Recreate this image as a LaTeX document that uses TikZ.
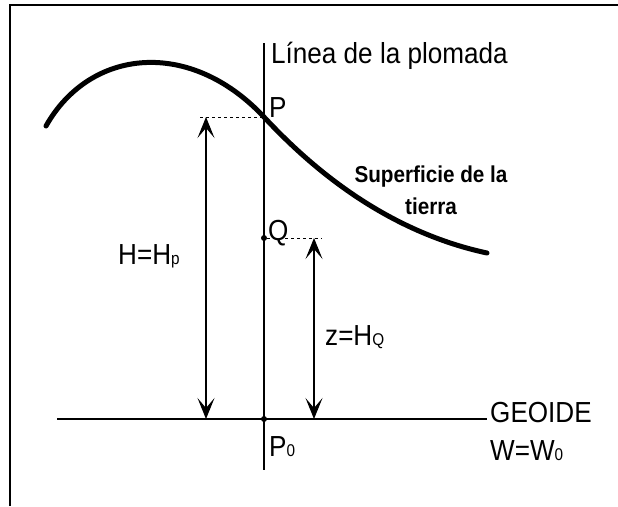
\documentclass[tikz,border=0pt]{standalone}
\usepackage{fontspec}
\setmainfont[FakeStretch=0.9]{Liberation Sans}
\usetikzlibrary{arrows.meta,positioning}
\newcommand{\idx}[1]{{\fontsize{17}{17}\selectfont #1}}

\begin{document}
\begin{tikzpicture}[
    x=1pt, y=-1pt,
    >=Stealth,
    lbl/.style={font=\fontsize{29}{32}\selectfont, inner sep=0pt, anchor=base west},
    surflbl/.style={font=\fontsize{23}{32}\selectfont\bfseries, align=center, inner sep=0pt},
    surf/.style={line width=5pt, line cap=round},
    arr/.style={{Stealth[length=21pt,width=17pt,inset=10pt]}-{Stealth[length=21pt,width=17pt,inset=10pt]}, line width=1.2pt},
    guide/.style={dash pattern=on 3pt off 3pt, line width=1pt},
    pt/.style={circle, fill, inner sep=0pt, minimum size=6pt},
  ]
  \useasboundingbox (0,0) rectangle (618,506);

  % frame
  \draw[line width=2pt] (10,506) -- (10,5) -- (618,5);

  % plumb line and geoid
  \coordinate (plumbtop) at (264,43);
  \coordinate (plumbbot) at (264,470);
  \coordinate (geoL) at (57,419);
  \coordinate (geoR) at (487,419);
  \draw[line width=1.2pt] (plumbtop) -- (plumbbot);
  \draw[line width=2pt] (geoL) -- (geoR);

  % points
  \coordinate (P) at (264,117);
  \node[pt] (Q) at (264,238) {};
  \node[pt] (P0) at (264,419) {};

  % earth surface
  \draw[surf] (46,126) .. controls (90,48) and (190,38) .. (P)
    .. controls (305,161) and (380,230) .. (487,253);

  % heights
  \coordinate (Htop) at (206,117);
  \coordinate (Hbot) at (206,419);
  \coordinate (Ptick) at (200,117);
  \coordinate (Ztop) at (314,238);
  \coordinate (Zbot) at (314,419);
  \coordinate (Qtick) at (322,238);
  \draw[guide] (Ptick) -- (P);
  \draw[guide] (Q) -- (Qtick);
  \draw[arr] (Htop) -- (Hbot);
  \draw[arr] (Ztop) -- (Zbot);

  % labels
  \node[lbl] (plumb) at (271,63) {Línea de la plomada};
  \node[lbl] (Plbl) at (269,117) {P};
  \node[lbl] (Qlbl) at (268,240) {Q};
  \node[lbl] (P0lbl) at (269,456) {P\idx{0}};
  \node[lbl] (Hlbl) at (118,264) {H=H\idx{p}};
  \node[lbl] (zlbl) at (325,345) {z=H\idx{Q}};
  \node[lbl] (geoide) at (490,422) {GEOIDE};
  \node[lbl] (wlbl) at (490,460) {W=W\idx{0}};
  \node[surflbl] (surface) at (431,190) {Superficie de la\\tierra};

\end{tikzpicture}
\end{document}
